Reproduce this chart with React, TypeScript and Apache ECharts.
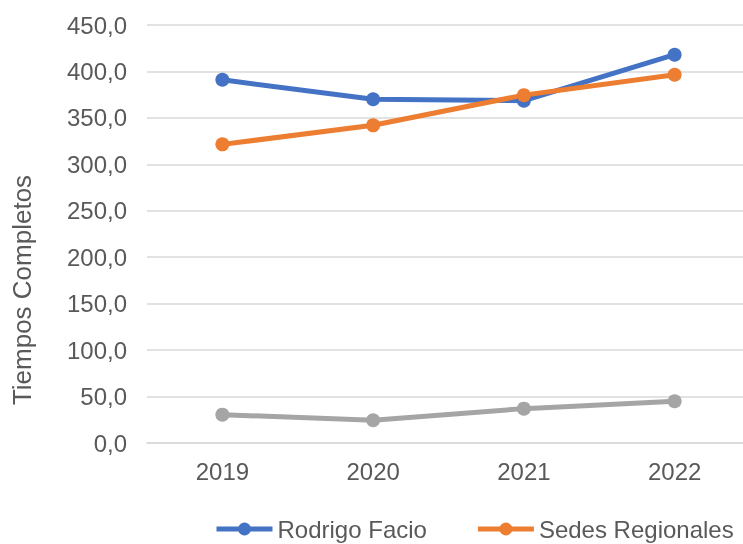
import React, { useEffect, useRef } from "react";
import * as echarts from "echarts";

const categories = ["2019", "2020", "2021", "2022"];
const rodrigoFacio = [391, 370, 368.5, 418];
const sedesRegionales = [321.5, 342, 374.5, 396.5];
const otros = [30.5, 24.5, 37, 45];
const yTicks = { min: 0, max: 450, interval: 50 };

const FONT = "'Liberation Sans', Arial, sans-serif";
const TEXT = "#595959";

export default function App() {
  const ref = useRef<HTMLDivElement>(null);
  useEffect(() => {
    if (!ref.current) return;
    const chart = echarts.init(ref.current, undefined, { renderer: "svg" });
    const lineSeries = (name: string, data: number[], color: string) => ({
      name,
      type: "line",
      data,
      symbol: "circle",
      symbolSize: 14,
      lineStyle: { width: 5, color },
      itemStyle: { color },
      z: 3,
    });
    chart.setOption({
      animation: false,
      textStyle: { fontFamily: FONT },
      grid: { left: 147, right: 0, top: 25, bottom: 101, containLabel: false },
      xAxis: {
        type: "category",
        data: categories,
        boundaryGap: true,
        axisLine: { show: true, lineStyle: { color: "#d9d9d9", width: 1.5 } },
        axisTick: { show: false },
        axisLabel: { color: TEXT, fontSize: 24, margin: 16, fontFamily: FONT },
        splitLine: { show: false },
      },
      yAxis: {
        type: "value",
        min: yTicks.min,
        max: yTicks.max,
        interval: yTicks.interval,
        axisLine: { show: false },
        axisTick: { show: false },
        axisLabel: {
          color: TEXT,
          fontSize: 24,
          margin: 20,
          fontFamily: FONT,
          formatter: (v: number) => v.toFixed(1).replace(".", ","),
        },
        splitLine: { show: true, lineStyle: { color: "#d9d9d9", width: 1.5 } },
      },
      legend: {
        data: ["Rodrigo Facio", "Sedes Regionales"],
        left: 209,
        top: 512,
        itemWidth: 56,
        itemHeight: 16,
        itemGap: 48.5,
        lineStyle: { width: 5 },
        textStyle: { color: TEXT, fontSize: 24, fontFamily: FONT },
      },
      graphic: [
        {
          type: "text",
          x: 22,
          y: 290,
          rotation: Math.PI / 2,
          style: {
            text: "Tiempos Completos",
            fill: TEXT,
            fontSize: 26,
            fontFamily: FONT,
            align: "center",
            verticalAlign: "middle",
          },
        },
      ],
      series: [
        lineSeries("Rodrigo Facio", rodrigoFacio, "#4472C4"),
        lineSeries("Sedes Regionales", sedesRegionales, "#ED7D31"),
        lineSeries("Otros", otros, "#A5A5A5"),
      ],
    });
    return () => chart.dispose();
  }, []);
  return (
    <div style={{ position: "fixed", left: 0, top: 0, width: 743, height: 544, overflow: "hidden" }}>
      <div ref={ref} style={{ width: 750, height: 544 }} />
    </div>
  );
}
